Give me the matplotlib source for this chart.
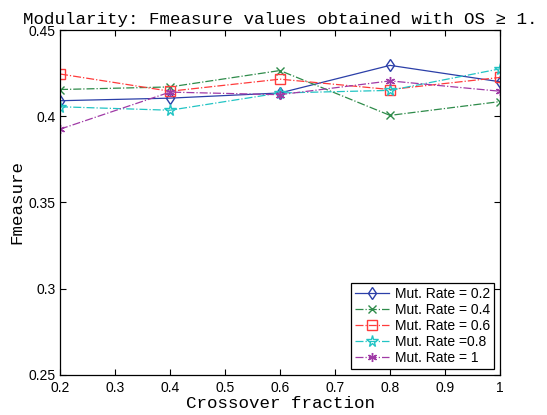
import matplotlib
matplotlib.use('Agg')
import matplotlib.pyplot as plt
import numpy as np

crossover = [0.2, 0.4, 0.6, 0.8, 1.0]

mut_02 = [0.409, 0.4105, 0.4135, 0.4295, 0.4200]
mut_04 = [0.4155, 0.4170, 0.4265, 0.4005, 0.4085]
mut_06 = [0.4245, 0.4145, 0.4215, 0.4155, 0.4225]
mut_08 = [0.4055, 0.4035, 0.4135, 0.4150, 0.4275]
mut_1 = [0.3925, 0.4140, 0.4125, 0.4205, 0.4145]

labels = ['Mut. Rate = 0.2', 'Mut. Rate = 0.4', 'Mut. Rate = 0.6',
          'Mut. Rate =0.8', 'Mut. Rate = 1']

plt.rcParams['font.family'] = ['Liberation Sans', 'DejaVu Sans']
mono = ['Liberation Mono', 'DejaVu Sans Mono']

fig = plt.figure(figsize=(5.47, 4.15), dpi=100)
ax = fig.add_axes([0.1097, 0.0964, 0.8044, 0.8313])

ax.plot(crossover, mut_02, color='#2b3fa8', linestyle='-', marker='d',
        markerfacecolor='none', markersize=6.5, linewidth=0.9, label=labels[0])
ax.plot(crossover, mut_04, color='#2e8b4a', linestyle='-.', marker='x',
        markersize=5.5, linewidth=0.9, label=labels[1])
ax.plot(crossover, mut_06, color='#ff3b3b', linestyle='-.', marker='s',
        markerfacecolor='none', markersize=6.5, linewidth=0.9, label=labels[2])
ax.plot(crossover, mut_08, color='#22c4c4', linestyle='-.', marker='*',
        markerfacecolor='none', markersize=8.5, linewidth=0.9, label=labels[3])
ax.plot(crossover, mut_1, color='#a03aa6', linestyle='-.', marker=(6, 2, 0),
        markersize=6.5, linewidth=0.9, label=labels[4])

ax.set_xlim(0.2, 1.0)
ax.set_ylim(0.25, 0.45)
ax.set_xticks(np.arange(0.2, 1.01, 0.1))
ax.set_xticklabels(['0.2', '0.3', '0.4', '0.5', '0.6', '0.7', '0.8', '0.9', '1'])
ax.set_yticks([0.25, 0.3, 0.35, 0.4, 0.45])
ax.set_yticklabels(['0.25', '0.3', '0.35', '0.4', '0.45'])
ax.tick_params(direction='in', top=True, right=True, labelsize=10, length=4)
ax.tick_params(axis='x', pad=4)
ax.tick_params(axis='y', pad=3)
for s in ax.spines.values():
    s.set_linewidth(0.9)

ax.set_title('Modularity: Fmeasure values obtained with OS \u2265 1.',
             family=mono, fontsize=12.6, pad=4)
ax.set_xlabel('Crossover fraction', family=mono, fontsize=12.6, labelpad=1)
ax.set_ylabel('Fmeasure', family=mono, fontsize=12.6, labelpad=3)

leg = ax.legend(loc='lower right', fontsize=10, fancybox=False, framealpha=1,
                edgecolor='black', borderpad=0.3, labelspacing=0.15,
                handlelength=2.5, handletextpad=0.4, borderaxespad=0.4)
leg.get_frame().set_linewidth(0.9)

plt.savefig('out.png', dpi=100)
